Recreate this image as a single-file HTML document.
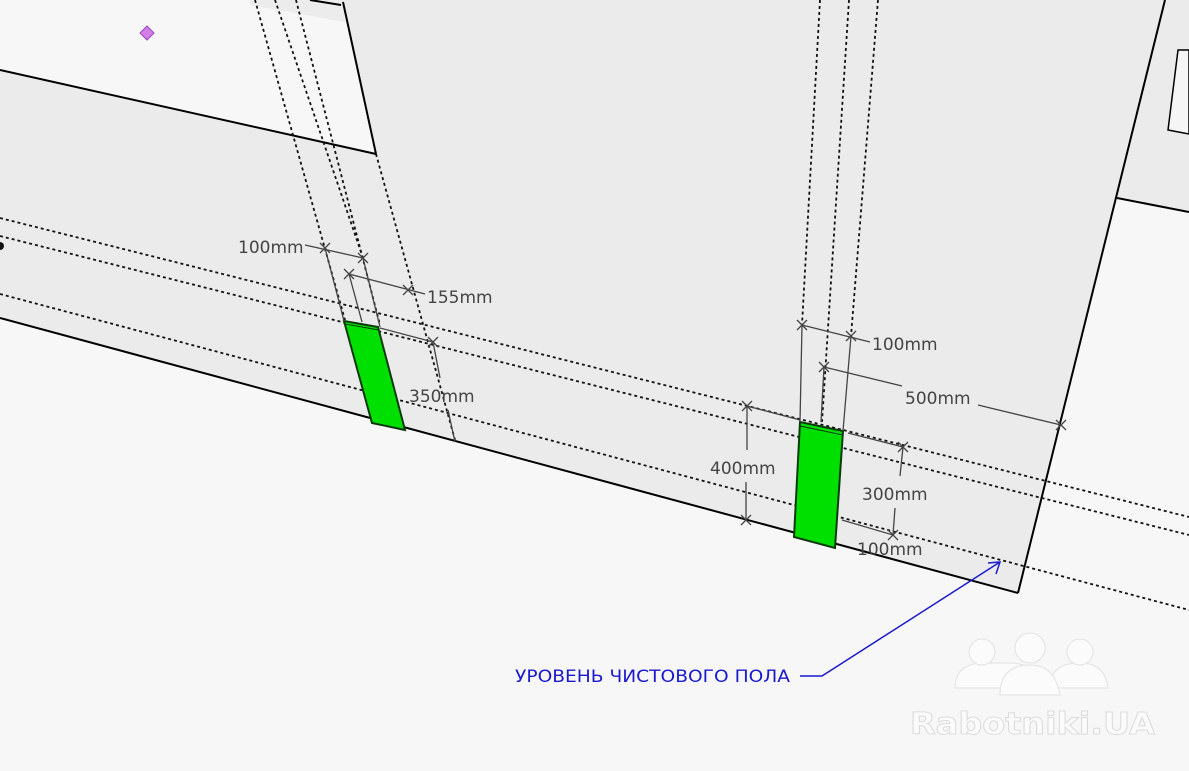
<!DOCTYPE html>
<html><head><meta charset="utf-8"><style>
html,body{margin:0;padding:0;background:#f7f7f7;}
svg{display:block;}
text{font-family:"DejaVu Sans","Liberation Sans",sans-serif;}
</style></head><body>
<svg width="1189" height="771" viewBox="0 0 1189 771" xmlns="http://www.w3.org/2000/svg">
<rect width="1189" height="771" fill="#f7f7f7"/>
<polygon points="250,0 343,0 345,22 250,5" fill="#ececec"/>
<polygon points="0,70 376,154 343,0 1165,0 1018,593 0,318" fill="#ebebeb"/>
<polygon points="1165,0 1189,0 1189,212 1117,198" fill="#ebebeb"/>
<polygon points="1168,130 1189,134 1189,50 1178,50" fill="#f5f5f5" stroke="#000" stroke-width="1.5"/>
<g stroke="#000" fill="none" stroke-width="2">
<line x1="0" y1="70" x2="376" y2="154"/>
<line x1="343" y1="2" x2="376" y2="154"/>
<line x1="310" y1="0" x2="341" y2="5"/>
<line x1="1165" y1="0" x2="1018" y2="593"/>
<line x1="0" y1="318" x2="1018" y2="593"/>
<line x1="1117" y1="198" x2="1189" y2="212"/>
</g>
<g stroke="#111" fill="none" stroke-width="1.8" stroke-dasharray="3,3">
<line x1="0" y1="218" x2="1189" y2="517"/>
<line x1="0" y1="236" x2="1189" y2="535"/>
<line x1="0" y1="294" x2="1189" y2="610"/>
<line x1="255" y1="0" x2="345" y2="320"/>
<line x1="275" y1="0" x2="363" y2="258"/>
<line x1="296" y1="0" x2="380" y2="325"/>
<line x1="376" y1="154" x2="455" y2="440"/>
<line x1="820" y1="0" x2="802" y2="325"/>
<line x1="849" y1="0" x2="822" y2="422"/>
<line x1="878" y1="0" x2="851" y2="336"/>
</g>
<polygon points="344,321 378,327 405,430 372,423" fill="#00e000" stroke="#0a3a0a" stroke-width="2"/>
<line x1="345" y1="324" x2="379" y2="330" stroke="#0a3a0a" stroke-width="1"/>
<polygon points="800,422 843,431 835,548 794,537" fill="#00e000" stroke="#0a3a0a" stroke-width="2"/>
<line x1="800" y1="426" x2="843" y2="435" stroke="#0a3a0a" stroke-width="1"/>
<g stroke="#444" fill="none" stroke-width="1.3">
<line x1="305" y1="245" x2="363" y2="258"/>
<line x1="325" y1="248" x2="344" y2="321"/>
<line x1="363" y1="258" x2="380" y2="327"/>
<line x1="349" y1="274" x2="425" y2="294"/>
<line x1="349" y1="274" x2="362" y2="322"/>
<line x1="380" y1="328" x2="433" y2="342"/>
<line x1="433" y1="342" x2="440" y2="378"/>
<line x1="448" y1="410" x2="455" y2="442"/>
<line x1="802" y1="325" x2="870" y2="342"/>
<line x1="802" y1="325" x2="800" y2="422"/>
<line x1="851" y1="336" x2="843" y2="431"/>
<line x1="824" y1="367" x2="902" y2="386"/>
<line x1="978" y1="405" x2="1061" y2="425"/>
<line x1="824" y1="367" x2="821" y2="422"/>
<line x1="747" y1="406" x2="800" y2="420"/>
<line x1="747" y1="406" x2="747" y2="450"/>
<line x1="746" y1="482" x2="746" y2="520"/>
<line x1="848" y1="433" x2="903" y2="447"/>
<line x1="903" y1="447" x2="900" y2="476"/>
<line x1="895" y1="508" x2="893" y2="535"/>
<line x1="842" y1="520" x2="893" y2="535"/>
</g>
<g stroke="#444" stroke-width="1.3">
<path d="M320,243l10,10M330,243l-10,10"/>
<path d="M358,253l10,10M368,253l-10,10"/>
<path d="M344,269l10,10M354,269l-10,10"/>
<path d="M403,285l10,10M413,285l-10,10"/>
<path d="M428,337l10,10M438,337l-10,10"/>
<path d="M797,320l10,10M807,320l-10,10"/>
<path d="M846,331l10,10M856,331l-10,10"/>
<path d="M819,362l10,10M829,362l-10,10"/>
<path d="M1056,420l10,10M1066,420l-10,10"/>
<path d="M742,401l10,10M752,401l-10,10"/>
<path d="M741,515l10,10M751,515l-10,10"/>
<path d="M898,442l10,10M908,442l-10,10"/>
<path d="M888,530l10,10M898,530l-10,10"/>
</g>
<g fill="#444" font-size="17">
<text x="238" y="253">100mm</text>
<text x="427" y="303">155mm</text>
<text x="409" y="402">350mm</text>
<text x="872" y="350">100mm</text>
<text x="905" y="404">500mm</text>
<text x="710" y="474">400mm</text>
<text x="862" y="500">300mm</text>
<text x="857" y="555">100mm</text>
</g>
<polygon points="147,26 154,33 147,40 140,33" fill="#d47fe8" stroke="#9a4ab8" stroke-width="1"/>
<circle cx="0" cy="246" r="4" fill="#111"/>
<g stroke="#1a1acc" stroke-width="1.5" fill="none">
<polyline points="800,676 822,676 1000,562"/>
<polyline points="988,563 1000,562 996,574"/>
</g>
<text x="515" y="682" fill="#1a1acc" font-size="17" textLength="275" lengthAdjust="spacingAndGlyphs" font-family="Liberation Sans, sans-serif">УРОВЕНЬ ЧИСТОВОГО ПОЛА</text>
<g fill="#fbfbfb" stroke="#e2e2e2" stroke-width="1">
<path d="M955,688 q0,-25 30,-25 q15,0 25,0 q25,0 25,25 z"/>
<path d="M1050,688 q0,-25 30,-25 q25,0 28,25 z"/>
<path d="M1000,695 q0,-30 30,-30 q25,0 30,30 z"/>
<circle cx="982" cy="652" r="13"/>
<circle cx="1030" cy="648" r="15"/>
<circle cx="1080" cy="652" r="13"/>
</g>
<text x="910" y="734" font-size="30" font-weight="bold" fill="#fbfbfb" stroke="#dcdcdc" stroke-width="1" textLength="245" lengthAdjust="spacingAndGlyphs" font-family="Liberation Sans, sans-serif">Rabotniki.UA</text>
</svg>
</body></html>
